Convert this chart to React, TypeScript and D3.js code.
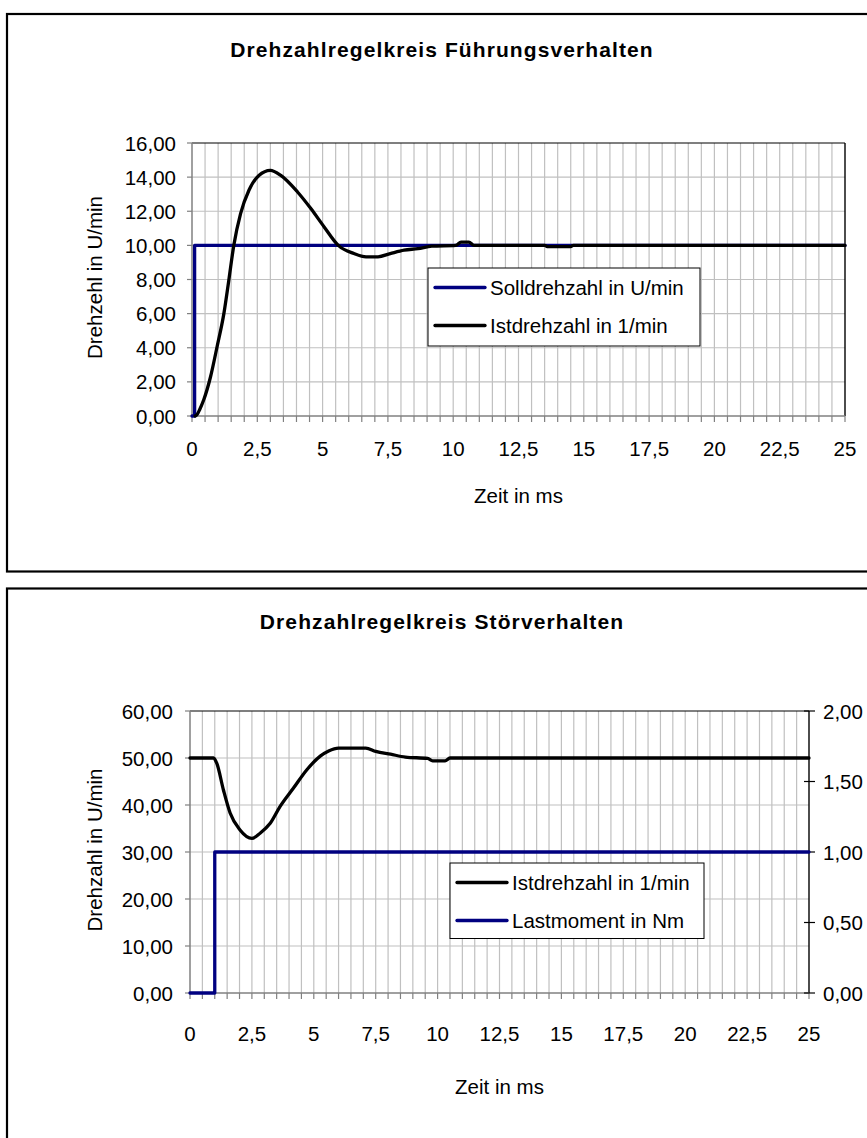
import React from "react";
import * as d3 from "d3";

// ---------- data ----------
const xTickValues = [0, 2.5, 5, 7.5, 10, 12.5, 15, 17.5, 20, 22.5, 25];
const xMinorStep = 0.5;
const xMax = 25;

const fuehrungYTicks = [0, 2, 4, 6, 8, 10, 12, 14, 16];
const stoerYTicks = [0, 10, 20, 30, 40, 50, 60];
const stoerRightTicks = [0, 0.5, 1, 1.5, 2];

// Chart 1: Führungsverhalten
const sollTime = [0, 0.1, 0.1, 25];
const sollValue = [0, 0, 10, 10];
const istTime1 = [0.12, 0.2, 0.3, 0.45, 0.71, 0.96, 1.22, 1.41, 1.6, 1.86, 2.18, 2.56, 3.0, 3.4, 4.04, 4.55, 5.06, 5.6, 6.2, 6.66, 7.12, 7.59, 8.12, 8.65, 9.18, 10.1, 10.3, 10.6, 10.8, 13.5, 13.6, 14.5, 14.6, 25];
const istValue1 = [0, 0.1, 0.4, 0.95, 2.3, 4.06, 6.0, 7.96, 10.0, 11.86, 13.23, 14.1, 14.4, 14.1, 13.13, 12.16, 11.08, 10.0, 9.52, 9.33, 9.33, 9.52, 9.72, 9.81, 9.95, 10.0, 10.19, 10.19, 10.0, 10.0, 9.93, 9.93, 10.0, 10.0];

// Chart 2: Störverhalten
const istTime2 = [0, 0.95, 1.08, 1.35, 1.62, 2.02, 2.5, 2.83, 3.24, 3.64, 4.18, 4.72, 5.26, 5.6, 6.0, 7.1, 7.5, 8.1, 8.7, 9.6, 9.8, 10.3, 10.5, 25];
const istValue2 = [50, 50, 48.9, 43.2, 38.3, 34.7, 32.9, 34.0, 36.1, 39.7, 43.6, 47.5, 50.4, 51.5, 52.1, 52.1, 51.4, 50.8, 50.2, 49.9, 49.4, 49.4, 50, 50];
const lastTime = [0, 1, 1, 25];
const lastValue = [0, 0, 1, 1];

// ---------- helpers ----------
const FONT = "'Liberation Sans', Arial, Helvetica, sans-serif";
const NAVY = "#000080";
const GRID = "#c0c0c0";
const AXIS = "#808080";

const de = d3.formatLocale({ decimal: ",", thousands: ".", grouping: [3], currency: ["", " €"] });
const fmt2 = de.format(".2f");
const fmtX = (d: number) => de.format("~g")(d);

type Series = { t: number[]; v: number[]; color: string; axis: "left" | "right"; smooth: boolean };
type LegendItem = { name: string; color: string };

type PanelProps = {
  boxY: number;
  boxH: number;
  title: string;
  titleY: number;
  left: number;
  right: number;
  top: number;
  bottom: number;
  xLabelDy: number;
  xTitleDy: number;
  yMax: number;
  yTicks: number[];
  yTitle: string;
  yLabelRight: number;
  rightMax?: number;
  rightTicks?: number[];
  series: Series[];
  legend: { x: number; y: number; w: number; h: number; rowGap: number; items: LegendItem[] };
};

function Panel(p: PanelProps) {
  const x = d3.scaleLinear().domain([0, xMax]).range([p.left, p.right]);
  const y = d3.scaleLinear().domain([0, p.yMax]).range([p.bottom, p.top]);
  const yR = d3.scaleLinear().domain([0, p.rightMax ?? 1]).range([p.bottom, p.top]);
  const minor = d3.range(0, xMax + 1e-9, xMinorStep);
  const lineFor = (s: Series) => {
    const ys = s.axis === "left" ? y : yR;
    const pts: [number, number][] = s.t.map((t, i) => [x(t), ys(s.v[i])]);
    const gen = d3.line().curve(s.smooth ? d3.curveMonotoneX : d3.curveLinear);
    return gen(pts) ?? "";
  };
  const cx = (p.left + p.right) / 2;
  const cy = (p.top + p.bottom) / 2;
  const lg = p.legend;
  return (
    <g>
      <rect x={7} y={p.boxY} width={900} height={p.boxH} fill="#fff" stroke="#000" strokeWidth={2.2} />
      <text x={442} y={p.titleY} textAnchor="middle" fontFamily={FONT} fontWeight="bold" fontSize={21} letterSpacing={1.1}>
        {p.title}
      </text>
      {/* vertical gridlines */}
      {minor.filter((t) => t > 0 && t < xMax).map((t) => (
        <line key={"vg" + t} x1={x(t)} x2={x(t)} y1={p.top} y2={p.bottom} stroke={GRID} strokeWidth={1.2} />
      ))}
      {/* horizontal gridlines */}
      {p.yTicks.filter((v) => v > 0 && v < p.yMax).map((v) => (
        <line key={"hg" + v} x1={p.left} x2={p.right} y1={y(v)} y2={y(v)} stroke={GRID} strokeWidth={1.2} />
      ))}
      {/* plot border top/right */}
      <line x1={p.left} x2={p.right} y1={p.top} y2={p.top} stroke="#000" strokeWidth={1.2} />
      <line x1={p.right} x2={p.right} y1={p.top} y2={p.bottom} stroke="#000" strokeWidth={1.4} />
      {/* axes */}
      <line x1={p.left} x2={p.left} y1={p.top} y2={p.bottom} stroke={AXIS} strokeWidth={1.5} />
      <line x1={p.left} x2={p.right} y1={p.bottom} y2={p.bottom} stroke={AXIS} strokeWidth={1.5} />
      {minor.map((t) => (
        <line key={"xt" + t} x1={x(t)} x2={x(t)} y1={p.bottom} y2={p.bottom + 6} stroke={AXIS} strokeWidth={1.2} />
      ))}
      {p.yTicks.map((v) => (
        <line key={"yt" + v} x1={p.left - 5} x2={p.left} y1={y(v)} y2={y(v)} stroke={AXIS} strokeWidth={1.2} />
      ))}
      {p.rightTicks &&
        p.rightTicks.map((v) => (
          <line key={"rt" + v} x1={p.right - 5} x2={p.right + 6} y1={yR(v)} y2={yR(v)} stroke="#000" strokeWidth={1.2} />
        ))}
      {/* tick labels */}
      {xTickValues.map((t) => (
        <text key={"xl" + t} x={x(t)} y={p.bottom + p.xLabelDy} textAnchor="middle" fontFamily={FONT} fontSize={20.5}>
          {fmtX(t)}
        </text>
      ))}
      {p.yTicks.map((v) => (
        <text key={"yl" + v} x={p.yLabelRight} y={y(v) + 7.5} textAnchor="end" fontFamily={FONT} fontSize={20.5}>
          {fmt2(v)}
        </text>
      ))}
      {p.rightTicks &&
        p.rightTicks.map((v) => (
          <text key={"rl" + v} x={p.right + 14} y={yR(v) + 7.5} textAnchor="start" fontFamily={FONT} fontSize={20.5}>
            {fmt2(v)}
          </text>
        ))}
      {/* axis titles */}
      <text x={cx} y={p.bottom + p.xTitleDy} textAnchor="middle" fontFamily={FONT} fontSize={20.5}>
        Zeit in ms
      </text>
      <text
        transform={`translate(101.5,${cy - 2}) rotate(-90)`}
        textAnchor="middle"
        fontFamily={FONT}
        fontSize={20.5}
      >
        {p.yTitle}
      </text>
      {/* series */}
      {p.series.map((s, i) => (
        <path key={"s" + i} d={lineFor(s)} fill="none" stroke={s.color} strokeWidth={3.3} strokeLinejoin="round" strokeLinecap="round" />
      ))}
      {/* legend */}
      <rect x={lg.x} y={lg.y} width={lg.w} height={lg.h} fill="#fff" stroke="#000" strokeWidth={1} />
      {lg.items.map((it, i) => {
        const ry = lg.y + 19.5 + i * lg.rowGap;
        return (
          <g key={"lg" + i}>
            <line x1={lg.x + 7} x2={lg.x + 57} y1={ry} y2={ry} stroke={it.color} strokeWidth={3.3} strokeLinecap="round" />
            <text x={lg.x + 62} y={ry + 7.2} fontFamily={FONT} fontSize={20.5}>
              {it.name}
            </text>
          </g>
        );
      })}
    </g>
  );
}

export default function App() {
  return (
    <div style={{ position: "fixed", left: 0, top: 0, width: 867, height: 1138, overflow: "hidden", background: "#fff" }}>
      <svg width={867} height={1138} style={{ display: "block" }}>
        <rect x={0} y={0} width={867} height={1138} fill="#fff" />
        <Panel
          boxY={14}
          boxH={557.5}
          title="Drehzahlregelkreis Führungsverhalten"
          titleY={57}
          left={192}
          right={845}
          top={143}
          bottom={416}
          xLabelDy={40}
          xTitleDy={87}
          yMax={16}
          yTicks={fuehrungYTicks}
          yTitle="Drehzehl in U/min"
          yLabelRight={176}
          series={[
            { t: sollTime, v: sollValue, color: NAVY, axis: "left", smooth: false },
            { t: istTime1, v: istValue1, color: "#000", axis: "left", smooth: true },
          ]}
          legend={{
            x: 428,
            y: 268,
            w: 272,
            h: 78,
            rowGap: 38,
            items: [
              { name: "Solldrehzahl in U/min", color: NAVY },
              { name: "Istdrehzahl in 1/min", color: "#000" },
            ],
          }}
        />
        <Panel
          boxY={588.5}
          boxH={700}
          title="Drehzahlregelkreis Störverhalten"
          titleY={629}
          left={190}
          right={809}
          top={711}
          bottom={993}
          xLabelDy={48}
          xTitleDy={101}
          yMax={60}
          yTicks={stoerYTicks}
          yTitle="Drehzahl in U/min"
          yLabelRight={173}
          rightMax={2}
          rightTicks={stoerRightTicks}
          series={[
            { t: lastTime, v: lastValue, color: NAVY, axis: "right", smooth: false },
            { t: istTime2, v: istValue2, color: "#000", axis: "left", smooth: true },
          ]}
          legend={{
            x: 450,
            y: 863,
            w: 254,
            h: 75.5,
            rowGap: 38,
            items: [
              { name: "Istdrehzahl in 1/min", color: "#000" },
              { name: "Lastmoment in Nm", color: NAVY },
            ],
          }}
        />
      </svg>
    </div>
  );
}
